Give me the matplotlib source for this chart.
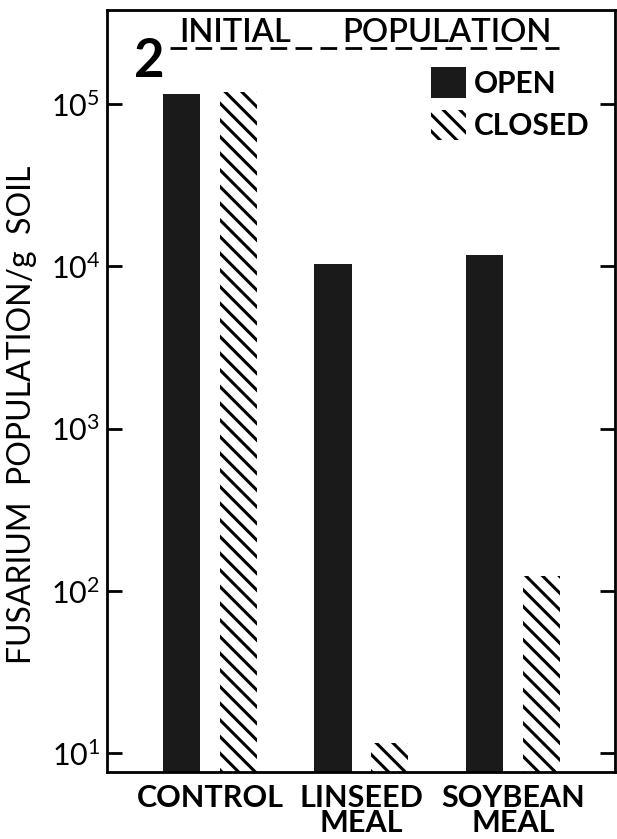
import numpy as np
import matplotlib
matplotlib.use("Agg")
import matplotlib.pyplot as plt
from matplotlib.lines import Line2D
from matplotlib.patches import Patch

# values (log scale)
categories = ["CONTROL", "LINSEED\nMEAL", "SOYBEAN\nMEAL"]
open_vals = [1.15e5, 1.03e4, 1.17e4]
closed_vals = [1.19e5, 11.5, 124]
decades = [1e1, 1e2, 1e3, 1e4, 1e5]

plt.rcParams['hatch.linewidth'] = 2.2
plt.rcParams['font.family'] = ['Lato', 'DejaVu Sans']
plt.rcParams['mathtext.fontset'] = 'custom'
plt.rcParams['mathtext.rm'] = 'Lato'
plt.rcParams['mathtext.default'] = 'rm'

fig = plt.figure(figsize=(6.17, 8.39), dpi=100)
ax = fig.add_axes([0.1734, 0.0799, 0.8233, 0.9082])

x = np.arange(len(categories))
w = 0.245
off = 0.187
ax.bar(x - off, open_vals, w, color='#1a1a1a', linewidth=0)
ax.bar(x + off, closed_vals, w, color='white', edgecolor='black',
       linewidth=0, hatch='\\\\')

ax.set_yscale('log')
ax.set_ylim(10 ** 0.883, 10 ** 5.58)
ax.set_xlim(-0.68, 2.675)
ax.set_yticks(decades)
ax.set_yticklabels([r'$10^{%d}$' % int(np.log10(d)) for d in decades],
                   fontsize=22)
ax.minorticks_off()
ax.tick_params(axis='y', which='major', direction='in', length=11, width=2,
               left=True, right=True, pad=5)
ax.set_xticks(x)
ax.set_xticklabels(categories, fontsize=22, fontweight='bold',
                   linespacing=0.85)
ax.tick_params(axis='x', length=0, pad=9)
for s in ax.spines.values():
    s.set_linewidth(2)

fig.text(0.036, 1 - 415 / 839, 'FUSARIUM  POPULATION/g  SOIL',
         rotation=90, ha='center', va='center', fontsize=23)

# panel number and heading
ax.text(0.053, 0.965, '2', transform=ax.transAxes, fontsize=38,
        fontweight='bold', ha='left', va='top')
ax.text(0.142, 0.99, 'INITIAL', transform=ax.transAxes,
        fontsize=23.5, ha='left', va='top', fontweight='semibold')
ax.text(0.463, 0.99, 'POPULATION', transform=ax.transAxes,
        fontsize=23.5, ha='left', va='top', fontweight='semibold')
ax.add_line(Line2D([0.125, 0.89], [0.95, 0.95], transform=ax.transAxes,
                   color='black', linewidth=2, linestyle=(0, (6, 3))))

handles = [Patch(facecolor='#1a1a1a', edgecolor='black', linewidth=0),
           Patch(facecolor='white', edgecolor='black', linewidth=0,
                 hatch='\\\\')]
ax.legend(handles, ['OPEN', 'CLOSED'], loc='upper left',
          bbox_to_anchor=(0.637, 0.925), frameon=False,
          prop={'weight': 'bold', 'size': 21.5}, handlelength=1.2,
          handleheight=1.2, handletextpad=0.25, labelspacing=0.4,
          borderpad=0, borderaxespad=0)

fig.savefig('out.png', dpi=100)
